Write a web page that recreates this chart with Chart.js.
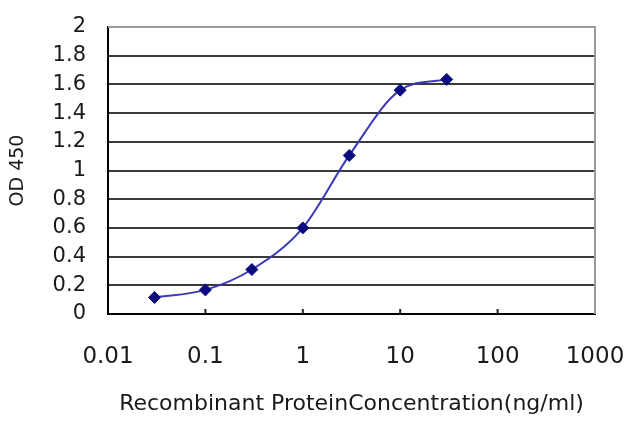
<!DOCTYPE html>
<html>
<head>
<meta charset="utf-8">
<script src="https://cdn.jsdelivr.net/npm/chart.js@4/dist/chart.umd.min.js"></script>
<style>
  html, body { margin: 0; padding: 0; background: #fff; }
  #wrap { width: 640px; height: 427px; }
</style>
</head>
<body>
<div id="wrap"><canvas id="odChart" width="640" height="427"></canvas></div>
<script>
// concentrations (ng/ml) and measured OD 450
const concentrations = [0.03, 0.1, 0.3, 1, 3, 10, 30];
const od450 = [0.115, 0.168, 0.31, 0.6, 1.105, 1.56, 1.635];

const xTickValues = [0.01, 0.1, 1, 10, 100, 1000];
const xTickLabels = ['0.01', '0.1', '1', '10', '100', '1000'];
const yTickValues = [0, 0.2, 0.4, 0.6, 0.8, 1, 1.2, 1.4, 1.6, 1.8, 2];
const yTickLabels = ['0', '0.2', '0.4', '0.6', '0.8', '1', '1.2', '1.4', '1.6', '1.8', '2'];

const FONT = 'DejaVu Sans';

// top/right frame of the plot and small inward ticks on the log axis
const frame = {
    id: 'frame',
    afterDraw(chart) {
        const { ctx, chartArea: a, scales } = chart;
        ctx.save();
        ctx.strokeStyle = '#9a9a9a';
        ctx.lineWidth = 2;
        ctx.beginPath();
        ctx.moveTo(a.left, a.top);
        ctx.lineTo(a.right, a.top);
        ctx.lineTo(a.right, a.bottom);
        ctx.stroke();
        ctx.strokeStyle = '#222';
        ctx.lineWidth = 2;
        ctx.beginPath();
        xTickValues.slice(1, -1).forEach(v => {
            const px = scales.x.getPixelForValue(v);
            ctx.moveTo(px, a.bottom);
            ctx.lineTo(px, a.bottom - 5);
        });
        ctx.stroke();
        ctx.restore();
    }
};

const data = concentrations.map((c, i) => ({ x: c, y: od450[i] }));

new Chart(document.getElementById('odChart'), {
    type: 'scatter',
    data: {
        datasets: [{
            data: data,
            showLine: true,
            borderColor: '#3a3ab8',
            borderWidth: 2,
            cubicInterpolationMode: 'monotone',
            pointStyle: 'rectRot',
            pointRadius: 6,
            pointBackgroundColor: '#0b0b80',
            pointBorderColor: '#0b0b80',
            pointBorderWidth: 1
        }]
    },
    options: {
        responsive: false,
        animation: false,
        layout: { padding: { top: 27, right: 45, left: 0, bottom: 0 } },
        plugins: { legend: { display: false }, tooltip: { enabled: false } },
        scales: {
            x: {
                type: 'logarithmic',
                min: 0.01,
                max: 1000,
                afterBuildTicks: s => { s.ticks = xTickValues.map(v => ({ value: v })); },
                afterFit: s => {
                    s.height = 113;
                    s.paddingLeft = 0;
                    s.paddingRight = 0;
                },
                grid: { display: false, drawTicks: false },
                border: { display: true, color: '#000', width: 2 },
                ticks: {
                    autoSkip: false,
                    maxRotation: 0,
                    padding: 29,
                    color: '#1a1a1a',
                    font: { family: FONT, size: 23 },
                    callback: (v, i) => xTickLabels[i]
                },
                title: {
                    display: true,
                    text: 'Recombinant ProteinConcentration(ng/ml)',
                    color: '#1a1a1a',
                    font: { family: FONT, size: 22 },
                    padding: { top: 0, bottom: 10 }
                }
            },
            y: {
                min: 0,
                max: 2,
                afterBuildTicks: s => { s.ticks = yTickValues.map(v => ({ value: v })); },
                afterFit: s => {
                    s.width = 108;
                    s.paddingTop = 0;
                    s.paddingBottom = 0;
                },
                grid: {
                    drawTicks: false,
                    color: ctx => ctx.tick && ctx.tick.value === 2 ? 'rgba(0,0,0,0)' : '#3a3a3a',
                    lineWidth: 2
                },
                border: { display: true, color: '#000', width: 2 },
                ticks: {
                    padding: 22,
                    color: '#1a1a1a',
                    font: { family: FONT, size: 21 },
                    callback: (v, i) => yTickLabels[i]
                },
                title: {
                    display: true,
                    text: 'OD 450',
                    color: '#1a1a1a',
                    font: { family: FONT, size: 19 },
                    padding: { top: 7, bottom: 0 }
                }
            }
        }
    },
    plugins: [frame]
});
</script>
</body>
</html>
